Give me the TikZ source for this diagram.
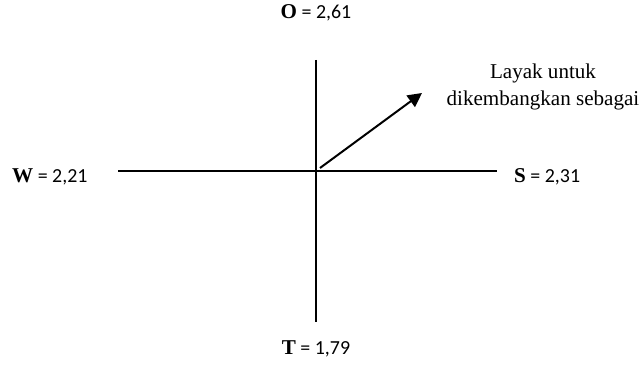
\documentclass[tikz,border=0pt]{standalone}
\usepackage{fontspec}
\setmainfont{Liberation Serif}
\newfontfamily\calib{Carlito}
\usetikzlibrary{arrows.meta,positioning}

\begin{document}
\begin{tikzpicture}[
  x=0.03cm, y=-0.03cm,
  axis/.style={line width=1.7pt},
  score/.style={inner sep=0pt, font=\fontsize{17}{20}\selectfont\calib},
  note/.style={inner sep=0pt, align=center, font=\fontsize{18}{23}\selectfont},
]
  \useasboundingbox (0,0) rectangle (643,367);

  % axis ends
  \coordinate (top) at (316,60);
  \coordinate (bottom) at (316,322);
  \coordinate (left) at (118,171);
  \coordinate (right) at (497,171);
  \coordinate (start) at (320,168);
  \coordinate (tip) at (422,93);

  \node[score] (o) at (316,13) {{\fontsize{18}{20}\selectfont\bfseries\rmfamily O} = 2,61};
  \node[score, anchor=west] (w) at (12,177) {{\fontsize{18}{20}\selectfont\bfseries\rmfamily W} = 2,21};
  \node[score, anchor=west] (s) at (514,177) {{\fontsize{18}{20}\selectfont\bfseries\rmfamily S} = 2,31};
  \node[score] (t) at (316,349) {{\fontsize{18}{20}\selectfont\bfseries\rmfamily T} = 1,79};

  \node[note] (layak) at (543,87) {Layak untuk\\dikembangkan sebagai};

  \draw[axis] (left) -- (right);
  \draw[axis] (top) -- (bottom);
  \draw[axis, -{Triangle[length=12pt, width=12pt]}] (start) -- (tip);
\end{tikzpicture}
\end{document}
